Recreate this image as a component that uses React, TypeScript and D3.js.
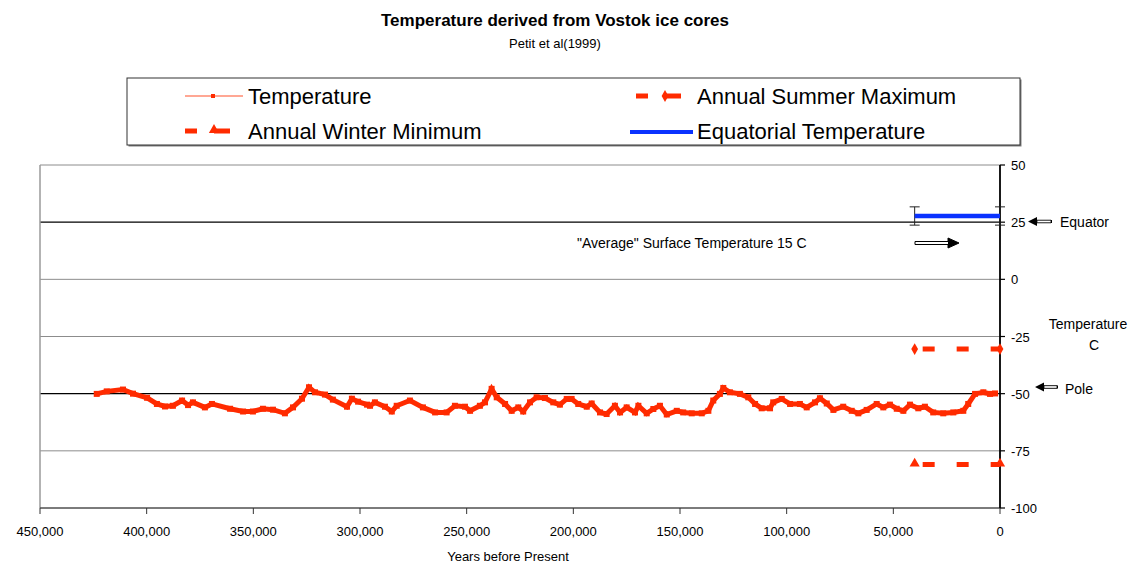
import React from "react";
import * as d3 from "d3";

// ---- Data ----
const tempYears = [
  423400, 418700, 411100, 406400, 399800, 395200, 391400, 387700, 383400, 380600,
  378300, 372700, 369400, 360900, 354800, 350200, 345500, 340800, 335200, 331400,
  327200, 323900, 321100, 316400, 312700, 306100, 303800, 300900, 296700, 295300,
  293000, 288300, 285100, 282800, 276600, 270500, 264800, 259400, 255500, 250800,
  248400, 243800, 241400, 238300, 235900, 232000, 228900, 225800, 223500, 220300,
  217200, 213300, 209400, 206300, 203100, 200800, 197700, 193700, 191400, 187500,
  184400, 180500, 178100, 175000, 171100, 169500, 165600, 162500, 159400, 156200,
  151500, 148500, 144500, 139800, 136700, 134400, 131300, 129700, 126600, 121900,
  118000, 114800, 111700, 107800, 106300, 102300, 98400, 93800, 90600, 86700,
  84400, 81200, 78100, 73500, 69500, 66400, 62500, 57800, 54700, 51600,
  48400, 45300, 42200, 38300, 35200, 31300, 26600, 21900, 17200, 14900,
  11700, 7800, 4700, 2300,
];
const tempValues = [
  -50.1, -49.0, -48.2, -50.0, -51.8, -54.5, -55.6, -55.3, -53.0, -55.0,
  -53.8, -56.0, -54.5, -56.6, -57.8, -57.8, -56.6, -57.0, -58.6, -56.0,
  -52.2, -47.2, -49.4, -50.4, -52.6, -55.7, -52.2, -53.5, -54.8, -55.3,
  -53.8, -55.7, -57.8, -55.3, -53.0, -56.0, -58.2, -58.2, -55.3, -55.7,
  -57.5, -55.3, -53.8, -47.9, -51.6, -54.5, -57.5, -56.0, -57.8, -53.8,
  -51.6, -51.9, -53.8, -54.8, -52.3, -52.3, -54.5, -55.7, -54.3, -58.2,
  -58.9, -55.3, -58.2, -56.0, -58.2, -55.3, -58.6, -56.7, -55.3, -59.1,
  -57.5, -58.2, -58.6, -58.6, -57.5, -53.0, -50.1, -47.5, -49.4, -50.1,
  -51.6, -54.5, -56.4, -56.4, -53.8, -52.3, -54.5, -54.5, -56.0, -53.8,
  -52.0, -54.3, -57.1, -55.7, -57.5, -58.6, -57.1, -54.5, -56.0, -54.8,
  -56.6, -57.5, -54.8, -56.4, -55.7, -58.2, -58.6, -58.2, -57.5, -54.5,
  -50.1, -49.4, -50.1, -49.9,
];
const summerYears = [40000, 0];
const summerValues = [-30.5, -30.5];
const winterYears = [40000, 0];
const winterValues = [-81, -81];
const equatorYears = [40000, 0];
const equatorValues = [27.7, 27.7];
const equatorError = [4, 4];
const yTicks = [50, 25, 0, -25, -50, -75, -100];
const xTicks = [450000, 400000, 350000, 300000, 250000, 200000, 150000, 100000, 50000, 0];
const darkGridValues = [25, -50];

const RED = "#ff2b00";
const BLUE = "#0a32ff";
const FONT = "'Liberation Sans', Arial, sans-serif";

export default function App() {
  const x = d3.scaleLinear().domain([450000, 0]).range([40, 1000]);
  const y = d3.scaleLinear().domain([-100, 50]).range([508, 165]);
  const fmt = d3.format(",");

  const tempPts: [number, number][] = tempYears.map((yr, i) => [x(yr), y(tempValues[i])]);
  const line = d3.line();
  const tempPath = line(tempPts) || "";
  const summerPath = line(summerYears.map((yr, i) => [x(yr), y(summerValues[i])])) || "";
  const winterPath = line(winterYears.map((yr, i) => [x(yr), y(winterValues[i])])) || "";
  const equatorPath = line(equatorYears.map((yr, i) => [x(yr), y(equatorValues[i])])) || "";

  const diamond = d3.symbol().type(d3.symbolDiamond).size(40)() || "";
  const triangle = d3.symbol().type(d3.symbolTriangle).size(45)() || "";

  const x0 = x(450000);
  const x1 = x(0);

  return (
    <svg width={1132} height={565} style={{ position: "absolute", left: 0, top: 0, background: "#fff" }} fontFamily={FONT}>
      {/* Titles */}
      <text x={555} y={26} textAnchor="middle" fontSize={17} fontWeight="bold" fill="#000">
        Temperature derived from Vostok ice cores
      </text>
      <text x={555} y={48} textAnchor="middle" fontSize={13} fill="#000">
        Petit et al(1999)
      </text>

      {/* Legend */}
      <rect x={128.5} y={79.5} width={893} height={67} fill="#808080" />
      <rect x={127} y={78} width={893} height={67} fill="#fff" stroke="#333" strokeWidth={1} />
      <g>
        <line x1={185} x2={243} y1={96} y2={96} stroke="#ff8a70" strokeWidth={1.5} />
        <rect x={211} y={94} width={4} height={4} fill={RED} />
        <text x={248} y={104} fontSize={22}>Temperature</text>

        <line x1={636} x2={648} y1={96} y2={96} stroke={RED} strokeWidth={5} />
        <line x1={665} x2={681} y1={96} y2={96} stroke={RED} strokeWidth={5} />
        <path d={diamond} transform="translate(665,96)" fill={RED} />
        <text x={697} y={104} fontSize={22}>Annual Summer Maximum</text>

        <line x1={185} x2={197} y1={131} y2={131} stroke={RED} strokeWidth={5} />
        <line x1={214} x2={230} y1={131} y2={131} stroke={RED} strokeWidth={5} />
        <path d={triangle} transform="translate(214,130)" fill={RED} />
        <text x={248} y={139} fontSize={22}>Annual Winter Minimum</text>

        <line x1={630} x2={693} y1={132} y2={132} stroke={BLUE} strokeWidth={4} />
        <text x={697} y={139} fontSize={22}>Equatorial Temperature</text>
      </g>

      {/* Plot frame and gridlines */}
      {yTicks.map((t) => (
        <line
          key={"g" + t}
          x1={x0}
          x2={x1}
          y1={y(t)}
          y2={y(t)}
          stroke={darkGridValues.includes(t) ? "#000" : "#8c8c8c"}
          strokeWidth={darkGridValues.includes(t) ? 1.2 : 1}
        />
      ))}
      <line x1={x0} x2={x0} y1={y(50)} y2={y(-100)} stroke="#9a9a9a" strokeWidth={1.5} />

      {/* X axis */}
      <line x1={x0} x2={x1} y1={y(-100)} y2={y(-100)} stroke="#333" strokeWidth={1.2} />
      {xTicks.map((t) => (
        <g key={"x" + t}>
          <line x1={x(t)} x2={x(t)} y1={y(-100)} y2={y(-100) + 6} stroke="#333" strokeWidth={1} />
          <text x={x(t)} y={536} textAnchor="middle" fontSize={13}>{fmt(t)}</text>
        </g>
      ))}
      <text x={508} y={561} textAnchor="middle" fontSize={13}>Years before Present</text>

      {/* Right Y axis */}
      <line x1={x1} x2={x1} y1={y(50)} y2={y(-100)} stroke="#000" strokeWidth={1.8} />
      {yTicks.map((t) => (
        <g key={"y" + t}>
          <line x1={x1} x2={x1 + 5} y1={y(t)} y2={y(t)} stroke="#000" strokeWidth={1.2} />
          <text x={1011} y={y(t) + 5} fontSize={13}>{t}</text>
        </g>
      ))}

      {/* Temperature series */}
      <path d={tempPath} fill="none" stroke={RED} strokeWidth={5} strokeLinejoin="miter" />
      {tempPts.map((p, i) => (
        <rect key={"m" + i} x={p[0] - 3} y={p[1] - 3} width={6} height={6} fill={RED} />
      ))}

      {/* Summer maximum */}
      <path d={summerPath} fill="none" stroke={RED} strokeWidth={5} strokeDasharray="12 22" strokeDashoffset={26} />
      {summerYears.map((yr, i) => (
        <path key={"s" + i} d={diamond} transform={`translate(${x(yr)},${y(summerValues[i])})`} fill={RED} />
      ))}

      {/* Winter minimum */}
      <path d={winterPath} fill="none" stroke={RED} strokeWidth={5} strokeDasharray="12 22" strokeDashoffset={26} />
      {winterYears.map((yr, i) => (
        <path key={"w" + i} d={triangle} transform={`translate(${x(yr)},${y(winterValues[i]) - 1})`} fill={RED} />
      ))}

      {/* Equatorial temperature with error bars */}
      {equatorYears.map((yr, i) => {
        const cx = x(yr);
        const top = y(equatorValues[i] + equatorError[i]);
        const bot = y(equatorValues[i] - equatorError[i]);
        return (
          <g key={"e" + i} stroke="#222" strokeWidth={1}>
            <line x1={cx} x2={cx} y1={top} y2={bot} />
            <line x1={cx - 5} x2={cx + 5} y1={top} y2={top} />
            <line x1={cx - 5} x2={cx + 5} y1={bot} y2={bot} />
          </g>
        );
      })}
      <path d={equatorPath} fill="none" stroke={BLUE} strokeWidth={4.5} />

      {/* Annotations */}
      <text x={577} y={248} fontSize={14}>"Average" Surface Temperature 15 C</text>
      <g>
        <path d="M915,241.5 L948,241.5 L948,238 L959,243 L948,248 L948,244.5 L915,244.5 Z" fill="#fff" stroke="#000" strokeWidth={1} />
        <path d="M948,238 L959,243 L948,248 Z" fill="#000" />
      </g>

      <g>
        <path d="M1028,221.5 L1037,217 L1037,220 L1052,220 L1052,223 L1037,223 L1037,226 Z" fill="#000" />
        <path d="M1037,220.2 L1051,220.2 L1051,222.8 L1037,222.8 Z" fill="#fff" stroke="#000" strokeWidth={0.8} />
      </g>
      <text x={1060} y={227} fontSize={14}>Equator</text>

      <g>
        <path d="M1035,387 L1044,382.5 L1044,385.5 L1058,385.5 L1058,388.5 L1044,388.5 L1044,391.5 Z" fill="#000" />
        <path d="M1044,385.7 L1057,385.7 L1057,388.3 L1044,388.3 Z" fill="#fff" stroke="#000" strokeWidth={0.8} />
      </g>
      <text x={1065} y={394} fontSize={14}>Pole</text>

      <text x={1088} y={329} textAnchor="middle" fontSize={14}>Temperature</text>
      <text x={1094} y={350} textAnchor="middle" fontSize={14}>C</text>
    </svg>
  );
}
